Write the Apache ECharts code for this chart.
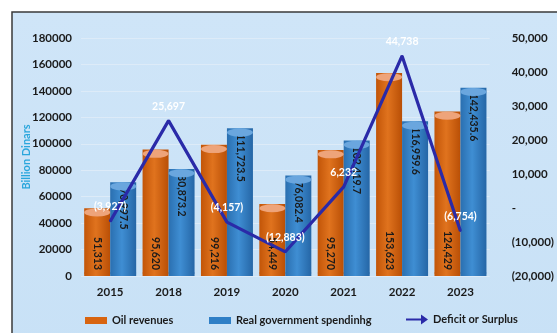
<!DOCTYPE html>
<html>
<head>
<meta charset="utf-8">
<script src="https://cdn.jsdelivr.net/npm/echarts@6/dist/echarts.min.js"></script>
<style>
  html, body { margin: 0; padding: 0; background: #ffffff; }
  #chart { width: 557px; height: 333px; }
</style>
</head>
<body>
<div id="chart"></div>
<script>
// Categories and series values
var years = ['2015', '2018', '2019', '2020', '2021', '2022', '2023'];
var oilRevenues = [51313, 95620, 99216, 54449, 95270, 153623, 124429];
var govSpending = [70997.5, 80873.2, 111723.5, 76082.4, 102419.7, 116959.6, 142435.6];
var deficitSurplus = [-3927, 25697, -4157, -12883, 6232, 44738, -6754];

// Axis tick settings
var leftTicks = { min: 0, max: 180000, interval: 20000 };
var rightTicks = { min: -20000, max: 50000, interval: 10000 };

var FONT = 'Lato, "Open Sans", sans-serif';

function fmtThousands(v, decimals) {
  return Number(v).toLocaleString('en-US', { minimumFractionDigits: decimals, maximumFractionDigits: decimals });
}
function fmtAccounting(v) {
  if (v === 0) return '-';
  if (v < 0) return '(' + fmtThousands(-v, 0) + ')';
  return fmtThousands(v, 0);
}

var orangeBody = new echarts.graphic.LinearGradient(0, 0, 1, 0, [
  { offset: 0, color: '#c25508' },
  { offset: 0.45, color: '#e0731e' },
  { offset: 1, color: '#b94f06' }
]);
var blueBody = new echarts.graphic.LinearGradient(0, 0, 1, 0, [
  { offset: 0, color: '#2a6fb0' },
  { offset: 0.45, color: '#3f8ed3' },
  { offset: 1, color: '#2566a6' }
]);

var barW = 26;
var lineColor = '#2a2aa8';
var legendText = { fontFamily: FONT, fontWeight: 'bold', fontSize: 11, color: '#1a1a1a' };

var chart = echarts.init(document.getElementById('chart'), null, { renderer: 'canvas' });
chart.setOption({
  animation: false,
  backgroundColor: '#ffffff',
  graphic: [{
    type: 'rect',
    z: -10,
    shape: { x: 12, y: 12, width: 560, height: 340 },
    style: {
      fill: new echarts.graphic.LinearGradient(0, 0, 0, 1, [
        { offset: 0, color: '#cfe5f8' },
        { offset: 1, color: '#c8e1f6' }
      ]),
      stroke: '#3a3a3a',
      lineWidth: 1.5
    }
  }],
  grid: { left: 81, right: 45, top: 38, bottom: 57, containLabel: false },
  legend: [
    {
      left: 85, top: 315, padding: 0, itemWidth: 22, itemHeight: 7, textStyle: legendText,
      data: [{ name: 'Oil revenues', icon: 'rect', itemStyle: { color: '#d8640f' } }]
    },
    {
      left: 209, top: 315, padding: 0, itemWidth: 22, itemHeight: 7, textStyle: legendText,
      data: [{ name: 'Real government spendinhg', icon: 'rect', itemStyle: { color: '#2f7fc6' } }]
    },
    {
      left: 406, top: 314, padding: 0, itemWidth: 22, itemHeight: 10, textStyle: legendText,
      data: [{
        name: 'Deficit or Surplus',
        icon: 'path://M0,4 L15,4 L15,0 L22,5 L15,10 L15,6 L0,6 Z',
        itemStyle: { color: lineColor, opacity: 1 }
      }]
    }
  ],
  xAxis: {
    type: 'category',
    data: years,
    axisLine: { show: false },
    axisTick: { show: false },
    axisLabel: { fontFamily: FONT, fontWeight: 'bold', fontSize: 11.5, color: '#1a1a1a', margin: 10 }
  },
  yAxis: [
    {
      type: 'value',
      min: leftTicks.min, max: leftTicks.max, interval: leftTicks.interval,
      name: 'Billion Dinars',
      nameLocation: 'middle',
      nameRotate: 90,
      nameGap: 49,
      nameMoveOverlap: false,
      nameTextStyle: { fontFamily: FONT, fontWeight: 'bold', fontSize: 11, color: '#2aa6dc' },
      axisLine: { show: false },
      axisTick: { show: false },
      axisLabel: {
        fontFamily: FONT, fontWeight: 'bold', fontSize: 11.5, color: '#1a1a1a', margin: 9,
        formatter: function (v) { return String(v); }
      },
      splitLine: { show: true, lineStyle: { color: '#ddebf8', width: 1 } }
    },
    {
      type: 'value',
      min: rightTicks.min, max: rightTicks.max, interval: rightTicks.interval,
      position: 'right',
      axisLine: { show: false },
      axisTick: { show: false },
      splitLine: { show: false },
      axisLabel: {
        fontFamily: FONT, fontWeight: 'bold', fontSize: 11.5, color: '#1a1a1a', margin: 22,
        formatter: function (v) { return fmtAccounting(v); }
      }
    }
  ],
  series: [
    {
      name: 'Oil revenues',
      type: 'bar',
      data: oilRevenues,
      barWidth: barW,
      barGap: '0%',
      z: 2,
      itemStyle: { color: orangeBody },
      label: {
        show: true,
        position: 'insideBottom',
        rotate: -90,
        align: 'right',
        verticalAlign: 'middle',
        distance: 6,
        fontFamily: FONT, fontWeight: 'bold', fontSize: 10.5, color: '#1a1a1a',
        formatter: function (p) { return fmtThousands(p.value, 0); }
      }
    },
    {
      name: 'Real government spendinhg',
      type: 'bar',
      data: govSpending,
      barWidth: barW,
      barGap: '0%',
      z: 2,
      itemStyle: { color: blueBody },
      label: {
        show: true,
        position: 'insideTop',
        rotate: -90,
        align: 'left',
        verticalAlign: 'middle',
        distance: 6,
        fontFamily: FONT, fontWeight: 'bold', fontSize: 10.5, color: '#1a1a1a',
        formatter: function (p) { return fmtThousands(p.value, 1); }
      }
    },
    // Cylinder caps (top ellipses)
    {
      name: 'oilTop',
      type: 'pictorialBar',
      data: oilRevenues,
      symbol: 'circle',
      symbolSize: [barW, 8],
      symbolPosition: 'end',
      symbolOffset: ['-50%', 0],
      z: 3,
      silent: true,
      itemStyle: { color: '#eea47a', borderColor: '#c8621a', borderWidth: 1 }
    },
    {
      name: 'govTop',
      type: 'pictorialBar',
      data: govSpending,
      symbol: 'circle',
      symbolSize: [barW, 8],
      symbolPosition: 'end',
      symbolOffset: ['50%', 0],
      z: 3,
      silent: true,
      itemStyle: { color: '#6aa6de', borderColor: '#3a80c4', borderWidth: 1 }
    },
    // Cylinder bottoms
    {
      name: 'oilBase',
      type: 'pictorialBar',
      data: oilRevenues,
      symbol: 'circle',
      symbolSize: [barW, 6],
      symbolPosition: 'start',
      symbolOffset: ['-50%', '0%'],
      z: 1,
      silent: true,
      itemStyle: { color: '#c45708' }
    },
    {
      name: 'govBase',
      type: 'pictorialBar',
      data: govSpending,
      symbol: 'circle',
      symbolSize: [barW, 6],
      symbolPosition: 'start',
      symbolOffset: ['50%', '0%'],
      z: 1,
      silent: true,
      itemStyle: { color: '#2a6dae' }
    },
    {
      name: 'Deficit or Surplus',
      type: 'line',
      yAxisIndex: 1,
      data: deficitSurplus,
      z: 10,
      symbol: 'circle',
      symbolSize: 2,
      showSymbol: true,
      lineStyle: { color: lineColor, width: 3.2 },
      itemStyle: { color: lineColor },
      label: {
        show: true,
        position: 'top',
        distance: 8,
        fontFamily: FONT, fontWeight: 'bold', fontSize: 10.5, color: '#ffffff',
        formatter: function (p) { return fmtAccounting(p.value); }
      }
    }
  ]
});
</script>
</body>
</html>
